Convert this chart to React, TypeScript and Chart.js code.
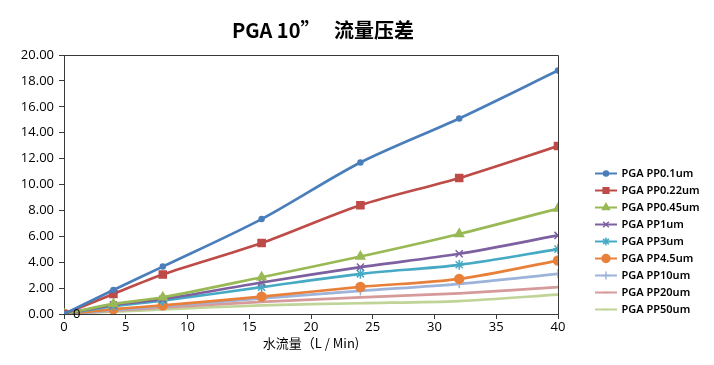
import { useEffect, useRef } from "react";
import { Chart, registerables } from "chart.js";
import { drawPoint } from "chart.js/helpers";

Chart.register(...registerables);

const titleText = "PGA 10”   流量压差";
const xTitle = "水流量（L / Min)";
const flow = [0, 4, 8, 16, 24, 32, 40];
const seriesNames = [
  "PGA PP0.1um",
  "PGA PP0.22um",
  "PGA PP0.45um",
  "PGA PP1um",
  "PGA PP3um",
  "PGA PP4.5um",
  "PGA PP10um",
  "PGA PP20um",
  "PGA PP50um",
];
const pp01 = [0, 1.86, 3.66, 7.33, 11.7, 15.1, 18.8];
const pp022 = [0, 1.55, 3.05, 5.48, 8.4, 10.5, 12.97];
const pp045 = [0, 0.78, 1.29, 2.84, 4.44, 6.18, 8.14];
const pp1 = [0, 0.7, 1.14, 2.43, 3.62, 4.65, 6.07];
const pp3 = [0, 0.6, 1.03, 2.07, 3.1, 3.8, 5.01];
const pp45 = [0, 0.37, 0.67, 1.34, 2.09, 2.71, 4.13];
const pp10 = [0, 0.3, 0.6, 1.2, 1.78, 2.33, 3.1];
const pp20 = [0, 0.25, 0.5, 0.93, 1.29, 1.6, 2.07];
const pp50 = [0, 0.18, 0.35, 0.67, 0.83, 1.0, 1.5];
const seriesValues = [pp01, pp022, pp045, pp1, pp3, pp45, pp10, pp20, pp50];

const colors = ["#4A7EBB", "#BE4B48", "#98B954", "#7D60A0", "#46AAC5", "#E8803A", "#9DB3DA", "#D69A9A", "#BFD496"];
const markers = ["circle", "rect", "triangle", "crossRot", "star", "circle", "cross", "line", "line"];
const markerRadius = [2.5, 5, 5, 5, 5, 4.5, 4.5, 3, 3];
const legendRadius = [2.5, 4, 4, 4, 4, 4, 4, 3, 3];

function legendImage(i: number) {
  const c = document.createElement("canvas");
  c.width = 22;
  c.height = 11;
  const ctx = c.getContext("2d")!;
  ctx.strokeStyle = colors[i];
  ctx.lineWidth = 2;
  ctx.beginPath();
  ctx.moveTo(0, 5.5);
  ctx.lineTo(22, 5.5);
  ctx.stroke();
  ctx.fillStyle = colors[i];
  ctx.strokeStyle = colors[i];
  ctx.lineWidth = 1.5;
  drawPoint(ctx, { pointStyle: markers[i], radius: legendRadius[i], rotation: 0, borderWidth: 1.5 } as any, 11, 5.5);
  return c;
}

const placementPlugin = {
  id: "placement",
  afterLayout(chart: any) {
    const lg = chart.legend;
    if (lg) {
      const w = lg.right - lg.left;
      lg.left = 590;
      lg.right = 590 + w;
      lg.top += 7;
      lg.bottom += 7;
    }
    const tb = chart.titleBlock;
    if (tb) {
      tb.left += 12;
      tb.right += 12;
    }
  },
};

const framePlugin = {
  id: "frame",
  afterDatasetsDraw(chart: any) {
    const { ctx, chartArea } = chart;
    ctx.save();
    ctx.strokeStyle = "#3a3a3a";
    ctx.lineWidth = 1;
    ctx.beginPath();
    ctx.moveTo(chartArea.left, Math.round(chartArea.top) + 0.5);
    ctx.lineTo(Math.round(chartArea.right) + 0.5, Math.round(chartArea.top) + 0.5);
    ctx.lineTo(Math.round(chartArea.right) + 0.5, chartArea.bottom);
    ctx.stroke();
    ctx.restore();
  },
};

const originLabelPlugin = {
  id: "originLabel",
  afterDatasetsDraw(chart: any) {
    const idx = 5;
    const meta = chart.getDatasetMeta(idx);
    const pt = meta.data[0];
    if (!pt) return;
    const ctx = chart.ctx;
    ctx.save();
    ctx.fillStyle = "#000";
    ctx.font = "13px 'Open Sans'";
    ctx.textAlign = "left";
    ctx.textBaseline = "middle";
    ctx.fillText(String(seriesValues[idx][0]), pt.x + 9, pt.y);
    ctx.restore();
  },
};

export default function App() {
  const ref = useRef<HTMLCanvasElement>(null);
  useEffect(() => {
    const images = seriesNames.map((_, i) => legendImage(i));
    const chart = new Chart(ref.current!, {
      type: "line",
      data: {
        datasets: seriesNames.map((name, i) => ({
          label: name,
          data: flow.map((x, j) => ({ x, y: seriesValues[i][j] })),
          borderColor: colors[i],
          backgroundColor: colors[i],
          borderWidth: 2.7,
          pointStyle: markers[i] as any,
          pointRadius: markerRadius[i],
          pointBorderWidth: 1.5,
          pointBorderColor: colors[i],
          pointBackgroundColor: colors[i],
          tension: 0.3,
          fill: false,
        })),
      },
      options: {
        animation: false,
        responsive: false,
        layout: { padding: { left: 0, right: 0, top: 0, bottom: 0 } },
        plugins: {
          title: {
            display: true,
            text: titleText,
            fullSize: false,
            color: "#000",
            font: { family: "'Noto Sans CJK SC'", size: 20, weight: "bold" },
            padding: { top: 18, bottom: 13 },
          },
          legend: {
            position: "right",
            align: "end",
            fullSize: false,
            labels: {
              usePointStyle: true,
              pointStyleWidth: 20,
              padding: 6,
              color: "#000",
              font: { family: "'Noto Sans'", size: 11, weight: "600" },
              generateLabels: (chart: any) => {
                const items = Chart.defaults.plugins.legend.labels.generateLabels(chart);
                return items.map((it: any, i: number) => ({ ...it, pointStyle: images[i] }));
              },
            },
          },
          tooltip: { enabled: false },
        },
        scales: {
          x: {
            type: "linear",
            min: 0,
            max: 40,
            afterFit: (s: any) => {
              s.height = 51;
            },
            ticks: { stepSize: 5, color: "#000", font: { family: "'Open Sans'", size: 13 }, padding: 0 },
            grid: { display: true, drawOnChartArea: false, tickLength: 5, color: "#3a3a3a" },
            border: { display: true, color: "#3a3a3a" },
            title: {
              display: true,
              text: xTitle,
              color: "#000",
              font: { family: "'Noto Sans CJK SC'", size: 13 },
              padding: { top: 0, bottom: 14 },
            },
          },
          y: {
            min: 0,
            max: 20,
            afterFit: (s: any) => {
              s.width = 64;
            },
            ticks: {
              stepSize: 2,
              color: "#000",
              font: { family: "'Open Sans'", size: 13 },
              padding: 5,
              callback: (v: any) => Number(v).toFixed(2),
            },
            grid: { display: true, drawOnChartArea: false, tickLength: 5, color: "#3a3a3a" },
            border: { display: true, color: "#3a3a3a" },
          },
          gap: {
            type: "linear",
            position: "right",
            display: true,
            afterFit: (s: any) => {
              s.width = 37;
            },
            ticks: { display: false },
            grid: { display: false },
            border: { display: false },
          },
        },
      },
      plugins: [placementPlugin, framePlugin, originLabelPlugin],
    } as any);
    return () => chart.destroy();
  }, []);
  return (
    <div style={{ position: "fixed", left: 0, top: 0, width: 714, height: 365, background: "#fff" }}>
      <canvas ref={ref} width={714} height={365} />
    </div>
  );
}
